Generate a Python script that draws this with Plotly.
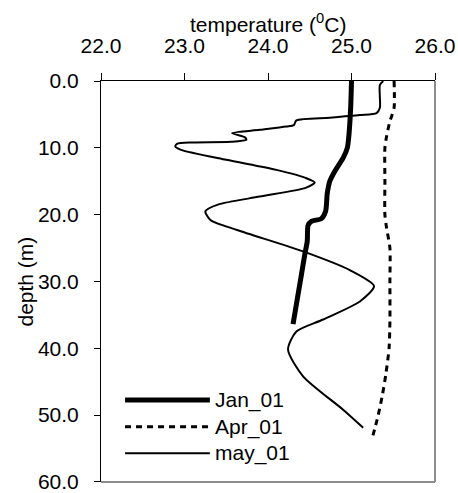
import plotly.graph_objects as go

# Temperature profiles (deg C) against depth (m)
jan_temp = [25.00, 24.99, 24.97, 24.95, 24.90, 24.80, 24.74, 24.71, 24.69, 24.64,
            24.52, 24.48, 24.47, 24.44, 24.40, 24.30]
jan_depth = [0.0, 4.0, 8.0, 10.0, 11.5, 13.5, 15.0, 16.8, 19.5, 20.6,
             21.0, 21.6, 24.0, 26.0, 29.0, 36.4]

apr_temp = [25.51, 25.51, 25.48, 25.46, 25.42, 25.40, 25.40, 25.40, 25.42, 25.46,
            25.46, 25.46, 25.45, 25.41, 25.37, 25.32, 25.28, 25.24]
apr_depth = [0.0, 4.0, 5.3, 6.0, 8.3, 10.0, 15.0, 20.0, 22.0, 25.0,
             30.0, 36.0, 40.0, 44.0, 47.0, 50.0, 52.0, 53.8]

may_temp = [25.38, 25.34, 25.34, 25.34, 25.30, 25.10, 24.74, 24.34, 24.31, 24.22,
            23.90, 23.57, 23.72, 23.74, 23.55, 23.10, 22.91, 22.89, 22.96, 23.50,
            24.10, 24.45, 24.56, 24.45, 23.90, 23.40, 23.25, 23.31, 23.63, 24.42,
            24.98, 25.27, 25.10, 24.66, 24.34, 24.24, 24.42, 24.90, 25.14]
may_depth = [0.0, 0.6, 2.5, 4.0, 4.8, 5.1, 5.5, 5.9, 6.6, 6.8,
             7.3, 7.8, 8.4, 8.8, 9.1, 9.2, 9.4, 9.8, 10.3, 11.8,
             13.3, 14.5, 15.2, 16.0, 17.3, 18.5, 19.5, 20.8, 22.3, 25.5,
             28.3, 30.7, 33.0, 35.7, 37.5, 40.2, 44.2, 49.2, 51.9]

series_names = ["Jan_01", "Apr_01", "may_01"]
x_ticks = [22.0, 23.0, 24.0, 25.0, 26.0]
y_ticks = [0.0, 10.0, 20.0, 30.0, 40.0, 50.0, 60.0]

FONT = "Liberation Sans, Arial, sans-serif"
FS = 21

styles = [
    dict(width=5, dash="solid"),
    dict(width=3, dash="6px,5px"),
    dict(width=2, dash="solid"),
]
data = [(jan_temp, jan_depth), (apr_temp, apr_depth), (may_temp, may_depth)]

fig = go.Figure()
for name, (t, d), st in zip(series_names, data, styles):
    fig.add_trace(go.Scatter(
        x=t, y=d, mode="lines", name=name,
        line=dict(color="black", width=st["width"], dash=st["dash"],
                  shape="spline", smoothing=0.7),
        showlegend=False,
    ))

# Legend drawn as long sample lines with labels, bottom-left inside the plot
leg_x0, leg_x1, leg_text_x = 0.072, 0.326, 0.335
leg_y = [0.2045, 0.138, 0.0716]
for name, st, yy in zip(series_names, styles, leg_y):
    fig.add_shape(type="line", xref="paper", yref="paper",
                  x0=leg_x0, x1=leg_x1, y0=yy, y1=yy,
                  line=dict(color="black", width=st["width"], dash=st["dash"]))
    fig.add_annotation(xref="paper", yref="paper", x=leg_text_x, y=yy,
                       text=name, showarrow=False, xanchor="left", yanchor="middle",
                       font=dict(family=FONT, size=FS, color="black"))

# Grey right and bottom plot-area border
fig.add_shape(type="line", xref="paper", yref="paper", x0=1, x1=1, y0=0, y1=1,
              line=dict(color="#8c8c8c", width=2))
fig.add_shape(type="line", xref="paper", yref="paper", x0=0, x1=1, y0=0, y1=0,
              line=dict(color="#8c8c8c", width=2))

# Axis titles
fig.add_annotation(xref="paper", yref="paper", x=0.5, y=1.145,
                   text="temperature (<sup>0</sup>C)", showarrow=False,
                   xanchor="center", yanchor="middle",
                   font=dict(family=FONT, size=FS, color="black"))
fig.add_annotation(xref="paper", yref="paper", x=-0.2275, y=0.5,
                   text="depth (m)", showarrow=False, textangle=-90,
                   xanchor="center", yanchor="middle",
                   font=dict(family=FONT, size=FS, color="black"))

fig.update_xaxes(
    range=[22, 26], side="top", tickvals=x_ticks,
    ticktext=[f"{v:.1f}" for v in x_ticks],
    ticks="outside", ticklen=7, tickcolor="black", tickwidth=1,
    showline=True, linecolor="black", linewidth=1,
    showgrid=False, zeroline=False, ticklabelstandoff=12,
    ticklabeloverflow="allow", automargin=False,
    tickfont=dict(family=FONT, size=FS, color="black"),
)
fig.update_yaxes(
    range=[60.02, 0], tickvals=y_ticks,
    ticktext=[f"{v:.1f}" for v in y_ticks],
    ticks="outside", ticklen=6, tickcolor="black", tickwidth=1,
    showline=True, linecolor="black", linewidth=1,
    showgrid=False, zeroline=False, ticklabelstandoff=11,
    ticklabeloverflow="allow", automargin=False,
    tickfont=dict(family=FONT, size=FS, color="black"),
)

fig.update_layout(
    width=458, height=493,
    margin=dict(l=101, r=23, t=81, b=11),
    paper_bgcolor="white", plot_bgcolor="white",
    font=dict(family=FONT, size=FS, color="black"),
)

fig.write_html("out.html")
